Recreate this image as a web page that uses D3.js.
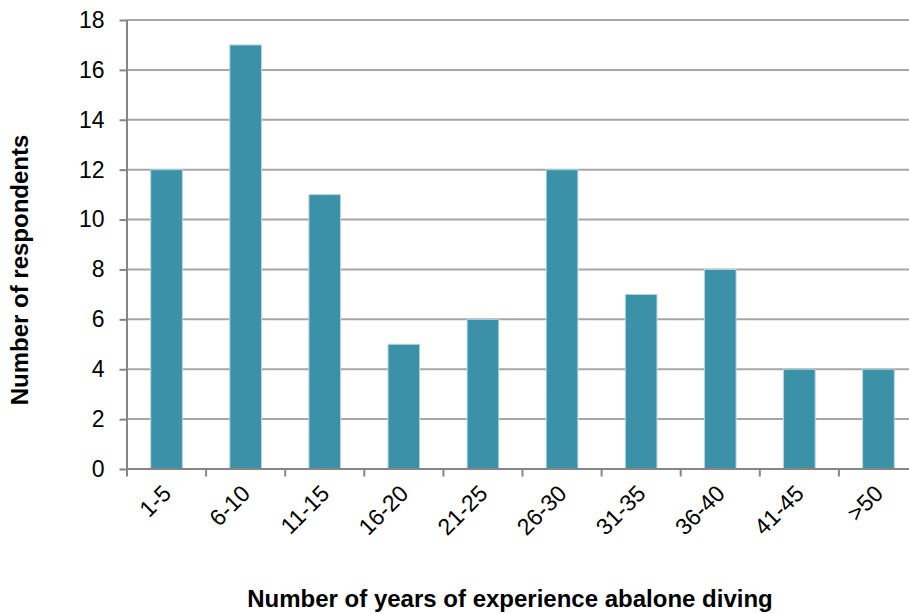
<!DOCTYPE html>
<html>
<head>
<meta charset="utf-8">
<script src="https://cdn.jsdelivr.net/npm/d3@7"></script>
<style>
  html, body { margin: 0; padding: 0; background: #fff; }
  svg { display: block; font-family: "Liberation Sans", Arial, sans-serif; }
</style>
</head>
<body>
<svg id="chart" width="909" height="614"></svg>
<script>
// Years of abalone diving experience vs number of respondents
const categories = ["1-5", "6-10", "11-15", "16-20", "21-25", "26-30", "31-35", "36-40", "41-45", ">50"];
const respondents = [12, 17, 11, 5, 6, 12, 7, 8, 4, 4];
const yTicks = [0, 2, 4, 6, 8, 10, 12, 14, 16, 18];

(function () {
  const svg = d3.select("#chart");
  const plotL = 127, plotR = 918, plotT = 20, plotB = 469;

  const x = d3.scaleBand().domain(categories).range([plotL, plotR]).paddingInner(0).paddingOuter(0);
  const y = d3.scaleLinear().domain([0, 18]).range([plotB, plotT]);

  // horizontal gridlines
  svg.append("g").selectAll("line").data(yTicks.filter(t => t > 0)).join("line")
    .attr("x1", plotL).attr("x2", plotR)
    .attr("y1", d => y(d)).attr("y2", d => y(d))
    .attr("stroke", "#a6a6a6").attr("stroke-width", 2);

  // bars
  const barW = x.bandwidth() * 0.4;
  svg.append("g").selectAll("rect").data(respondents).join("rect")
    .attr("x", (d, i) => x(categories[i]) + (x.bandwidth() - barW) / 2)
    .attr("y", d => y(d))
    .attr("width", barW)
    .attr("height", d => y(0) - y(d))
    .attr("fill", "#3a91a8")
    .attr("stroke", "#b6d6df").attr("stroke-width", 1);

  // y axis
  const yAxis = svg.append("g").attr("transform", `translate(${plotL},0)`)
    .call(d3.axisLeft(y).tickValues(yTicks).tickSize(7.5).tickPadding(15).tickFormat(d3.format("d")));
  yAxis.select(".domain").attr("stroke", "#868686").attr("stroke-width", 2).attr("d", `M0,${plotT}V${plotB}`);
  yAxis.selectAll(".tick line").attr("stroke", "#868686").attr("stroke-width", 2);
  yAxis.selectAll(".tick text").attr("font-size", 23).attr("fill", "#000")
    .attr("font-family", "Liberation Sans, Arial, sans-serif");

  // x axis: ticks sit on band boundaries
  const boundaries = categories.map(c => x(c)).concat([plotR]);
  const xg = svg.append("g");
  xg.append("line").attr("x1", plotL).attr("x2", plotR).attr("y1", plotB).attr("y2", plotB)
    .attr("stroke", "#868686").attr("stroke-width", 2);
  xg.selectAll("line.tk").data(boundaries).join("line").attr("class", "tk")
    .attr("x1", d => d).attr("x2", d => d).attr("y1", plotB).attr("y2", plotB + 7.5)
    .attr("stroke", "#868686").attr("stroke-width", 2);
  xg.selectAll("text").data(categories).join("text")
    .attr("transform", d => `translate(${x(d) + x.bandwidth() / 2 + 6},${plotB + 26}) rotate(-45)`)
    .attr("text-anchor", "end")
    .attr("font-size", 23).attr("fill", "#000")
    .text(d => d);

  // axis titles
  svg.append("text")
    .attr("transform", "translate(28,270) rotate(-90)")
    .attr("text-anchor", "middle").attr("font-size", 24).attr("font-weight", "bold")
    .text("Number of respondents");
  svg.append("text")
    .attr("x", 510).attr("y", 607)
    .attr("text-anchor", "middle").attr("font-size", 24).attr("font-weight", "bold")
    .text("Number of years of experience abalone diving");
})();
</script>
</body>
</html>
